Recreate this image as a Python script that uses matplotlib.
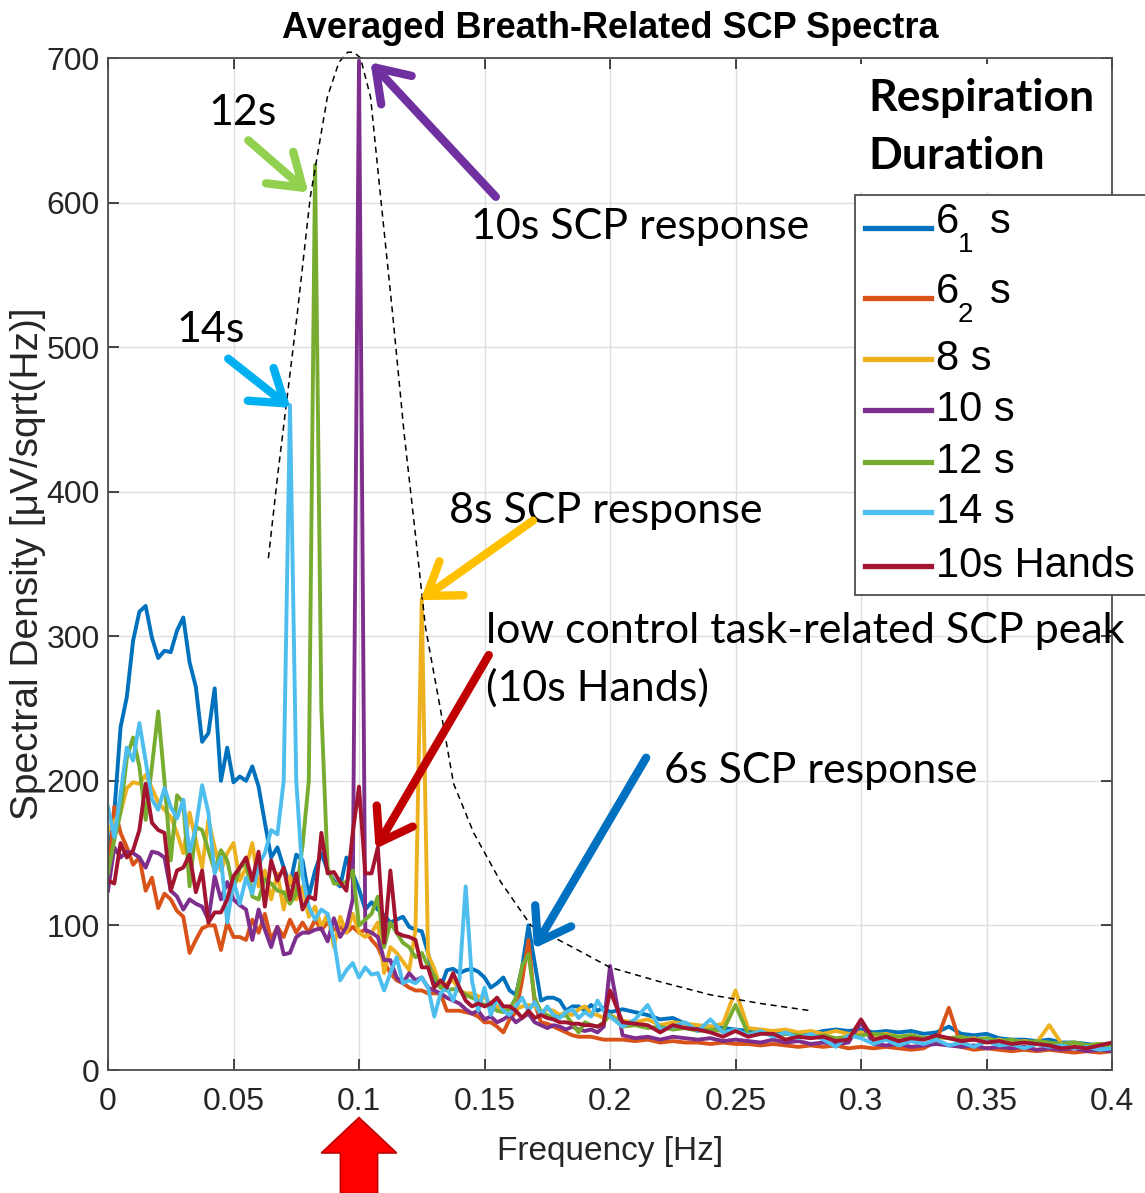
"""Averaged breath-related SCP spectra, redrawn with matplotlib."""

import numpy as np
import matplotlib.pyplot as plt
from matplotlib.lines import Line2D
from matplotlib.patches import FancyArrow, Rectangle
from matplotlib.transforms import blended_transform_factory

SANS = ["Liberation Sans", "DejaVu Sans"]
CALIBRI = ["Lato", "DejaVu Sans"]
plt.rcParams["font.family"] = SANS

# frequency grid: 0.0025 Hz up to 0.2 Hz, 0.005 Hz above
freq = np.round(np.concatenate([np.arange(81) * 0.0025, 0.2 + np.arange(1, 41) * 0.005]), 4)

s6_1 = [147, 178, 237, 258, 297, 317, 321, 299, 285, 290,
        289, 304, 313, 282, 265, 227, 233, 264, 200, 223,
        199, 203, 200, 210, 196, 171, 147, 154, 140, 128,
        149, 145, 120, 138, 150, 138, 131, 127, 147, 136,
        125, 111, 116, 111, 107, 102, 104, 106, 99, 97,
        96, 81, 62, 57, 69, 70, 67, 69, 70, 68,
        64, 57, 60, 64, 55, 52, 71, 100, 74, 48,
        50, 50, 48, 41, 44, 44, 41, 45, 41, 43, 40,
        42, 40, 38, 35, 36, 32, 30, 30, 29, 28,
        27, 26, 27, 26, 25, 25, 27, 28, 27, 28,
        26, 27, 26, 27, 25, 26, 30, 25, 24, 25,
        22, 21, 21, 20, 21, 19, 19, 18, 17, 16]

s6_2 = [131, 182, 164, 154, 142, 147, 124, 133, 112, 122,
        118, 110, 106, 81, 90, 98, 100, 100, 83, 102,
        92, 92, 90, 104, 95, 108, 90, 99, 92, 104,
        95, 102, 95, 104, 97, 102, 97, 99, 95, 99,
        95, 97, 90, 85, 75, 67, 62, 60, 57, 55,
        55, 53, 53, 53, 41, 41, 41, 40, 39, 37,
        33, 33, 30, 26, 35, 40, 62, 90, 46, 33,
        32, 30, 28, 26, 24, 23, 23, 23, 22, 21, 21,
        21, 20, 21, 19, 20, 19, 19, 18, 19, 18,
        18, 17, 18, 17, 16, 17, 16, 17, 15, 16,
        15, 16, 15, 14, 15, 20, 43, 16, 14, 15,
        14, 13, 14, 13, 14, 13, 12, 13, 12, 13]

s8 = [166, 172, 178, 195, 199, 198, 204, 195, 185, 180,
      175, 164, 150, 178, 159, 140, 173, 154, 138, 150,
      157, 131, 140, 157, 127, 138, 118, 136, 111, 134,
      118, 127, 106, 113, 99, 108, 85, 106, 95, 108,
      95, 92, 95, 102, 67, 85, 81, 75, 69, 97,
      326, 80, 70, 57, 60, 62, 55, 53, 53, 51,
      50, 46, 44, 42, 44, 42, 44, 45, 44, 40,
      42, 41, 38, 40, 38, 42, 44, 39, 38, 36, 38,
      34, 33, 35, 31, 33, 32, 31, 30, 32, 55,
      29, 28, 27, 28, 26, 27, 25, 27, 25, 26,
      24, 25, 23, 24, 22, 23, 22, 21, 22, 20,
      21, 19, 20, 19, 31, 18, 19, 17, 18, 17]

s10 = [124, 154, 147, 151, 150, 147, 140, 151, 150, 147,
       124, 120, 111, 118, 115, 113, 104, 134, 118, 130,
       118, 114, 111, 90, 111, 97, 85, 99, 80, 81,
       92, 95, 95, 97, 98, 89, 105, 92, 99, 118,
       698, 97, 95, 92, 76, 76, 64, 60, 67, 62,
       64, 57, 55, 53, 50, 48, 46, 42, 39, 41,
       35, 37, 33, 35, 38, 33, 36, 39, 33, 31,
       29, 31, 30, 28, 30, 28, 27, 28, 26, 30, 72,
       24, 22, 23, 21, 23, 22, 21, 22, 20, 21,
       20, 19, 21, 19, 20, 18, 19, 18, 19, 33,
       18, 17, 18, 16, 17, 18, 17, 16, 17, 15,
       16, 15, 16, 14, 15, 14, 15, 13, 14, 13]

s12 = [136, 159, 178, 216, 230, 210, 173, 210, 248, 200,
       145, 190, 185, 127, 168, 166, 152, 138, 152, 145,
       125, 140, 143, 120, 118, 132, 129, 124, 123, 115,
       122, 155, 200, 626, 250, 140, 129, 129, 130, 138,
       100, 104, 108, 120, 85, 102, 95, 88, 85, 78,
       81, 72, 65, 57, 55, 56, 55, 52, 50, 48,
       45, 44, 41, 40, 42, 50, 72, 80, 50, 40,
       38, 36, 37, 38, 32, 26, 33, 31, 30, 33, 38,
       30, 31, 29, 30, 28, 29, 27, 28, 27, 45,
       25, 26, 24, 25, 24, 23, 24, 22, 23, 24,
       25, 24, 23, 24, 22, 23, 22, 23, 21, 22,
       20, 21, 19, 20, 19, 18, 19, 17, 18, 17]

s14 = [182, 161, 191, 223, 214, 240, 214, 187, 180, 195,
       182, 174, 187, 150, 168, 197, 178, 136, 147, 102,
       131, 115, 133, 122, 142, 150, 166, 163, 200, 460,
       200, 134, 113, 104, 111, 108, 90, 62, 69, 74,
       64, 71, 66, 67, 55, 67, 78, 60, 62, 60,
       64, 57, 37, 53, 57, 48, 62, 127, 62, 41,
       57, 38, 50, 41, 38, 44, 50, 41, 47, 38,
       44, 38, 36, 40, 42, 36, 40, 37, 48, 41, 37,
       30, 35, 45, 28, 30, 33, 27, 35, 26, 28,
       24, 27, 23, 26, 22, 25, 21, 16, 24, 22,
       18, 21, 17, 20, 18, 21, 17, 19, 16, 20,
       17, 18, 15, 18, 16, 17, 15, 16, 14, 15]

s10_hands = [131, 129, 157, 147, 152, 166, 198, 171, 166, 164,
             124, 138, 140, 149, 123, 138, 102, 109, 109, 118,
             134, 140, 147, 131, 151, 113, 145, 131, 140, 118,
             136, 111, 120, 118, 164, 136, 137, 130, 124, 164,
             196, 136, 136, 154, 88, 138, 95, 93, 92, 90,
             71, 71, 57, 62, 57, 67, 57, 48, 44, 46,
             44, 46, 50, 44, 44, 41, 36, 41, 36, 38,
             36, 35, 33, 33, 32, 32, 31, 31, 30, 32, 55,
             33, 32, 31, 26, 31, 29, 28, 26, 23, 27,
             23, 25, 25, 21, 23, 22, 23, 20, 21, 35,
             21, 23, 20, 22, 21, 24, 22, 20, 21, 19,
             20, 18, 19, 18, 17, 15, 16, 15, 17, 19]

series_values = [s6_1, s6_2, s8, s10, s12, s14, s10_hands]
series_colors = ["#0072BD", "#D95319", "#EDB120", "#7E2F8E", "#77AC30", "#4DBEEE", "#A2142F"]
# legend text: main part, subscript, trailing part
legend_main = ["6", "6", "8 s", "10 s", "12 s", "14 s", "10s Hands"]
legend_sub = ["1", "2", "", "", "", "", ""]
legend_tail = ["s", "s", "", "", "", "", ""]

# hand-drawn envelope (dashed)
env_x = [0.0639, 0.0675, 0.0710, 0.0754, 0.0806, 0.0874, 0.0920, 0.0955, 0.0980,
         0.1006, 0.1046, 0.1086, 0.1134, 0.1180, 0.1225, 0.1265, 0.1325, 0.1377,
         0.1457, 0.1565, 0.1685, 0.1850, 0.2000, 0.2200, 0.2400, 0.2600, 0.2800]
env_y = [354, 410, 460, 523, 604, 673, 697, 704, 704, 700, 673, 604, 523, 440, 370,
         306, 249, 198, 164, 130, 100, 85, 71, 61, 52, 46, 41]

xticks = [0, 0.05, 0.1, 0.15, 0.2, 0.25, 0.3, 0.35, 0.4]
xtick_labels = ["0", "0.05", "0.1", "0.15", "0.2", "0.25", "0.3", "0.35", "0.4"]
yticks = [0, 100, 200, 300, 400, 500, 600, 700]

# callouts: (text, text x, text y, horizontal alignment, arrow tail, arrow head, colour)
callouts = [
    ("12s", 0.0535, 662, "center", (0.0559, 643), (0.0798, 607), "#92D050"),
    ("14s", 0.0407, 512, "center", (0.0479, 492), (0.0727, 458), "#00B0F0"),
    ("10s SCP response", 0.1445, 583, "left", (0.1545, 604), (0.1046, 697), "#7030A0"),
    ("8s SCP response", 0.1357, 387, "left", (0.1693, 380), (0.1245, 325), "#FFC000"),
    ("low control task-related SCP peak", 0.1505, 304, "left",
     (0.1517, 287), (0.1066, 153), "#C00000"),
    ("(10s Hands)", 0.1505, 264, "left", None, None, None),
    ("6s SCP response", 0.2216, 207, "left", (0.2144, 216), (0.1697, 84), "#0070C0"),
]

W, H = 1145, 1193


def fx(px):
    return px / W


def fy(py):
    return 1 - py / H


fig = plt.figure(figsize=(W / 100, H / 100), dpi=100)
ax = fig.add_axes([fx(108), fy(1070), (1112 - 108) / W, (1070 - 58) / H])

for vals, col in zip(series_values, series_colors):
    ax.plot(freq, vals, color=col, lw=2.8, solid_joinstyle="round")

ax.plot(env_x, env_y, color="black", lw=1.1, ls=(0, (4, 3)), clip_on=False)

ax.set_xlim(0, 0.4)
ax.set_ylim(0, 700)
ax.set_xticks(xticks)
ax.set_xticklabels(xtick_labels)
ax.set_yticks(yticks)
ax.tick_params(direction="in", length=8, width=1.2, top=True, right=True,
               labelsize=23, colors="#262626", pad=6)
ax.tick_params(axis="x", pad=12)
ax.grid(True, color="#dedede", lw=1.0)
ax.set_axisbelow(True)
for sp in ax.spines.values():
    sp.set_color("#4d4d4d")
    sp.set_linewidth(1.3)

ax.set_xlabel("Frequency [Hz]", fontsize=24, color="#262626", labelpad=14)
ax.set_ylabel("Spectral Density [μV/sqrt(Hz)]", fontsize=28, color="#262626", labelpad=0)
fig.text(610 / W, fy(28), "Averaged Breath-Related SCP Spectra",
         ha="center", va="center", fontsize=26, fontweight="bold")

for txt, tx, ty, ha, tail, head, col in callouts:
    ax.text(tx, ty, txt, ha=ha, va="center", fontsize=31, family=CALIBRI,
            color="black", zorder=6, clip_on=False)
    if tail is not None:
        ax.annotate("", xy=head, xytext=tail, annotation_clip=False, zorder=6,
                    arrowprops=dict(arrowstyle="->,head_length=1.1,head_width=0.75",
                                    color=col, lw=6, mutation_scale=20,
                                    shrinkA=0, shrinkB=0))

# legend drawn by hand so the subscript rows get MATLAB's extra height
fig.patches.append(Rectangle((fx(855), fy(595)), (1160 - 855) / W, 400 / H,
                             transform=fig.transFigure, fc="white", ec="#4d4d4d",
                             lw=1.3, zorder=5))
row_y = [228, 298, 359, 410, 462, 512, 566]
for ry, col, main, sub, tail in zip(row_y, series_colors, legend_main, legend_sub, legend_tail):
    fig.lines.append(Line2D([fx(865), fx(931)], [fy(ry), fy(ry)], transform=fig.transFigure,
                            color=col, lw=3.8, zorder=6))
    if sub:
        fig.text(fx(936), fy(ry - 6), main, fontsize=30, va="center", ha="left", zorder=7)
        fig.text(fx(958), fy(ry + 17), sub, fontsize=20, va="center", ha="left", zorder=7)
        fig.text(fx(990), fy(ry - 6), tail, fontsize=30, va="center", ha="left", zorder=7)
    else:
        fig.text(fx(936), fy(ry), main, fontsize=30, va="center", ha="left", zorder=7)

fig.patches.append(Rectangle((fx(858), fy(192)), (1108 - 858) / W, 128 / H,
                             transform=fig.transFigure, fc="white", ec="none", zorder=3))
fig.text(fx(868), fy(98), "Respiration", fontsize=32, fontweight="bold",
         family=CALIBRI, va="center", ha="left", zorder=4)
fig.text(fx(868), fy(156), "Duration", fontsize=32, fontweight="bold",
         family=CALIBRI, va="center", ha="left", zorder=4)

# red block arrow under 0.1 Hz
trans = blended_transform_factory(ax.transData, ax.transAxes)
ax.add_patch(FancyArrow(0.1, -0.122, 0, 0.075, width=0.0148, head_width=0.03,
                        head_length=0.035, length_includes_head=True,
                        fc="#FF0000", ec="#C00000", lw=1.2,
                        transform=trans, clip_on=False, zorder=6))

fig.savefig("out.png", dpi=100)
